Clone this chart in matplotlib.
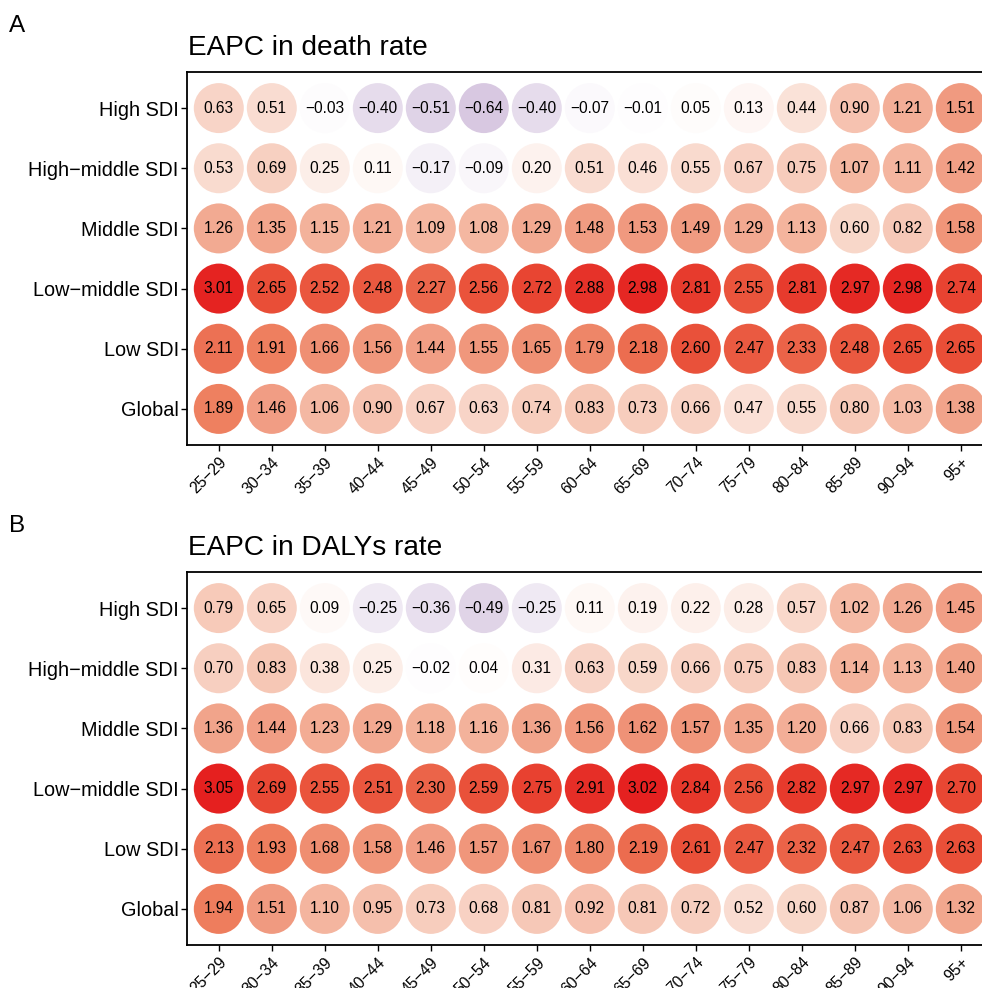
import matplotlib

matplotlib.use("Agg")
import matplotlib.pyplot as plt
import numpy as np
from matplotlib.colors import LinearSegmentedColormap, Normalize

plt.rcParams["font.family"] = ["Liberation Sans", "DejaVu Sans"]

age_groups = ["25\u221229", "30\u221234", "35\u221239", "40\u221244", "45\u221249",
              "50\u221254", "55\u221259", "60\u221264", "65\u221269", "70\u221274",
              "75\u221279", "80\u221284", "85\u221289", "90\u221294", "95+"]
regions = ["High SDI", "High\u2212middle SDI", "Middle SDI",
           "Low\u2212middle SDI", "Low SDI", "Global"]

death_high = [0.63, 0.51, -0.03, -0.40, -0.51, -0.64, -0.40, -0.07, -0.01, 0.05, 0.13, 0.44, 0.90, 1.21, 1.51]
death_high_mid = [0.53, 0.69, 0.25, 0.11, -0.17, -0.09, 0.20, 0.51, 0.46, 0.55, 0.67, 0.75, 1.07, 1.11, 1.42]
death_mid = [1.26, 1.35, 1.15, 1.21, 1.09, 1.08, 1.29, 1.48, 1.53, 1.49, 1.29, 1.13, 0.60, 0.82, 1.58]
death_low_mid = [3.01, 2.65, 2.52, 2.48, 2.27, 2.56, 2.72, 2.88, 2.98, 2.81, 2.55, 2.81, 2.97, 2.98, 2.74]
death_low = [2.11, 1.91, 1.66, 1.56, 1.44, 1.55, 1.65, 1.79, 2.18, 2.60, 2.47, 2.33, 2.48, 2.65, 2.65]
death_global = [1.89, 1.46, 1.06, 0.90, 0.67, 0.63, 0.74, 0.83, 0.73, 0.66, 0.47, 0.55, 0.80, 1.03, 1.38]

daly_high = [0.79, 0.65, 0.09, -0.25, -0.36, -0.49, -0.25, 0.11, 0.19, 0.22, 0.28, 0.57, 1.02, 1.26, 1.45]
daly_high_mid = [0.70, 0.83, 0.38, 0.25, -0.02, 0.04, 0.31, 0.63, 0.59, 0.66, 0.75, 0.83, 1.14, 1.13, 1.40]
daly_mid = [1.36, 1.44, 1.23, 1.29, 1.18, 1.16, 1.36, 1.56, 1.62, 1.57, 1.35, 1.20, 0.66, 0.83, 1.54]
daly_low_mid = [3.05, 2.69, 2.55, 2.51, 2.30, 2.59, 2.75, 2.91, 3.02, 2.84, 2.56, 2.82, 2.97, 2.97, 2.70]
daly_low = [2.13, 1.93, 1.68, 1.58, 1.46, 1.57, 1.67, 1.80, 2.19, 2.61, 2.47, 2.32, 2.47, 2.63, 2.63]
daly_global = [1.94, 1.51, 1.10, 0.95, 0.73, 0.68, 0.81, 0.92, 0.81, 0.72, 0.52, 0.60, 0.87, 1.06, 1.32]

death_rows = [death_high, death_high_mid, death_mid, death_low_mid, death_low, death_global]
daly_rows = [daly_high, daly_high_mid, daly_mid, daly_low_mid, daly_low, daly_global]

# diverging scale: purple below zero, white at zero, red above
VMIN, VMAX = -1.0, 3.1
stops = [(-1.0, "#c7b0d6"), (-0.64, "#d8c8e1"), (0.0, "#ffffff"), (0.63, "#f8d4c6"),
         (1.21, "#f3ae96"), (1.51, "#f09a80"), (1.89, "#ee8060"), (2.65, "#e94e37"),
         (3.1, "#e41a1c")]
cmap = LinearSegmentedColormap.from_list(
    "eapc", [((v - VMIN) / (VMAX - VMIN), c) for v, c in stops])
norm = Normalize(VMIN, VMAX)

W, H = 982, 988
fig = plt.figure(figsize=(W / 100, H / 100), dpi=100)


def draw_panel(ax, rows, title, letter, top_px):
    n_rows = len(regions)
    for i, vals in enumerate(rows):
        y = n_rows - 1 - i
        xs = np.arange(len(vals))
        ax.scatter(xs, np.full(len(vals), y), s=1296, c=vals, cmap=cmap, norm=norm,
                   edgecolors="none", zorder=2)
        for x, v in zip(xs, vals):
            ax.text(x, y, f"{v:.2f}".replace("-", "\u2212"), ha="center", va="center",
                    fontsize=11.2, color="black", zorder=3)
    ax.set_xlim(-0.6, len(age_groups) - 0.4)
    ax.set_ylim(-0.6, n_rows - 0.4)
    ax.set_xticks(range(len(age_groups)))
    ax.set_xticklabels(age_groups, rotation=45, ha="right", va="top",
                       rotation_mode="anchor", fontsize=11.3)
    ax.set_yticks(range(n_rows))
    ax.set_yticklabels(regions[::-1], fontsize=14.3)
    ax.tick_params(length=4, width=1, color="black", pad=2)
    ax.tick_params(axis="x", pad=3)
    for sp in ax.spines.values():
        sp.set_linewidth(1.3)
        sp.set_color("black")
    fig.text(188 / W, 1 - (top_px - 17) / H, title, fontsize=20.2, va="baseline", ha="left")
    fig.text(9 / W, 1 - (top_px - 40) / H, letter, fontsize=17.5, va="baseline", ha="left")


ax_a = fig.add_axes([187 / W, 1 - 445 / H, 805.6 / W, 373 / H])
draw_panel(ax_a, death_rows, "EAPC in death rate", "A", 72)
ax_b = fig.add_axes([187 / W, 1 - 945 / H, 805.6 / W, 373 / H])
draw_panel(ax_b, daly_rows, "EAPC in DALYs rate", "B", 572)

fig.savefig("out.png", dpi=100, facecolor="white")
